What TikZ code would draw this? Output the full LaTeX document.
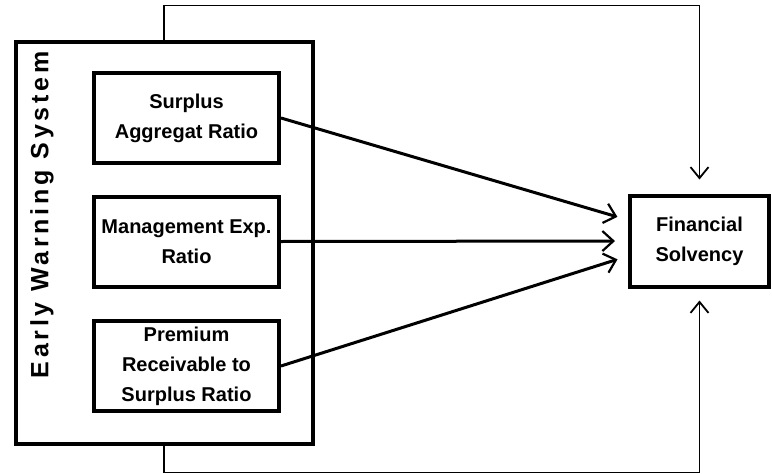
\documentclass[tikz,border=0pt]{standalone}
\usepackage{fontspec}
\setmainfont{Liberation Sans}
\newfontfamily\spacedfont[LetterSpace=15]{Liberation Sans Bold}
\usepackage{tikz}
\usetikzlibrary{arrows.meta,positioning}

\begin{document}
\begin{tikzpicture}[
      x=1pt, y=-1pt,
      box/.style={
        draw=black,
        line width=4pt,
        fill=white,
        minimum width=185pt,
        minimum height=90pt,
        align=center,
        inner sep=4pt,
        font=\fontsize{20}{30}\selectfont\bfseries
      },
      arrow/.style={-{Straight Barb[length=11pt, width=20pt, line width=2.2pt]}, line width=3pt},
      link/.style={-{Straight Barb[length=11pt, width=18pt, line width=1.8pt]}, line width=1.8pt}
    ]
    \useasboundingbox (0,0) rectangle (772,474);

    % outer group
    \node[draw=black, line width=4pt, minimum width=297pt, minimum height=402pt] (ews) at (164,242.5) {};
    \node[rotate=90, font=\fontsize{25}{28}\selectfont\spacedfont] (ewslabel) at (42,215) {Early Warning System};

    % ratios
    \node[box] (sar) at (186.5,118) {Surplus\\Aggregat Ratio};
    \node[box] (mer) at (186.5,241.5) {Management Exp.\\Ratio};
    \node[box] (prs) at (186.5,366) {Premium\\Receivable to\\Surplus Ratio};

    % outcome
    \node[box, minimum width=139pt, minimum height=91pt] (fs) at (699.5,241) {Financial\\Solvency};

    \draw[arrow, shorten >=11pt] (sar.east) -- ([yshift=21pt]fs.west);
    \draw[arrow, shorten >=13pt] (mer.east) -- (fs.west);
    \draw[arrow, shorten >=11pt] (prs.east) -- ([yshift=-15pt]fs.west);

    \draw[link, shorten >=14pt] (ews.north) -- ++(0,-34) -| (fs.north);
    \draw[link, shorten >=12pt] (ews.south) -- ++(0,27) -| (fs.south);
  \end{tikzpicture}
\end{document}
